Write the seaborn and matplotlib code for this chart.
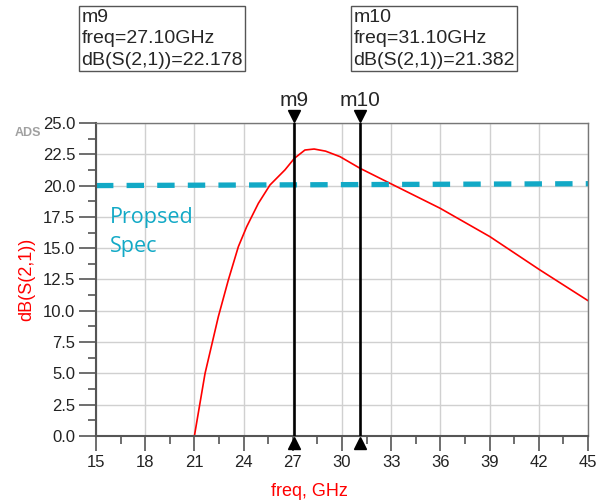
import numpy as np
import pandas as pd
import seaborn as sns
import matplotlib.pyplot as plt
import matplotlib.transforms as mtransforms
from matplotlib.ticker import MultipleLocator

# curve
freq = [21.0, 21.65, 22.46, 23.07, 23.68, 24.19, 24.9, 25.61, 26.52, 27.1,
        27.74, 28.3, 29.0, 29.88, 31.1, 32.93, 35.98, 39.02, 42.07, 45.0]
s21 = [0.0, 5.0, 9.53, 12.46, 15.12, 16.72, 18.58, 20.05, 21.25, 22.18,
       22.84, 22.92, 22.75, 22.31, 21.38, 20.18, 18.19, 15.92, 13.26, 10.81]
spec_x = [15, 45]
spec_y = [20.0, 20.15]
markers = ["m9", "m10"]
marker_freq = [27.10, 31.10]
marker_val = [22.178, 21.382]

sns.set_style("white")
plt.rcParams['font.family'] = ['Liberation Sans', 'DejaVu Sans']

fig = plt.figure(figsize=(5.98, 5.04), dpi=100)
ax = fig.add_axes([0.1605, 0.1349, 0.8228, 0.6211])

df = pd.DataFrame({'freq': freq, 'dB': s21})
sns.lineplot(data=df, x='freq', y='dB', color='red', lw=1.2, ax=ax)

ax.plot(spec_x, spec_y, color='#12A9C6', lw=3.8, dashes=(3.3, 2.5))
ax.text(15.85, 16.3, "Propsed\nSpec", color='#12A9C6', fontsize=15.5,
        family=['Open Sans', 'DejaVu Sans'], va='center', linespacing=1.45)

# markers
up = mtransforms.offset_copy(ax.transData, fig=fig, x=0, y=6.5, units='dots')
down = mtransforms.offset_copy(ax.transData, fig=fig, x=0, y=-6.5, units='dots')
for name, f in zip(markers, marker_freq):
    ax.plot([f, f], [0, 25], color='black', lw=1.9, zorder=5)
    ax.plot(f, 25, marker='v', color='black', ms=8, clip_on=False, zorder=6, transform=up)
    ax.plot(f, 0, marker='^', color='black', ms=8, clip_on=False, zorder=6, transform=down)
    ax.text(f, 26.0, name, ha='center', va='bottom', fontsize=15)

ax.set_xlim(15, 45)
ax.set_ylim(0, 25)
ax.xaxis.set_major_locator(MultipleLocator(3))
ax.xaxis.set_minor_locator(MultipleLocator(1.5))
ax.yaxis.set_minor_locator(MultipleLocator(1.25))
ax.set_yticks(np.arange(0, 25.1, 2.5))
ax.set_yticklabels([f"{v:.1f}" for v in np.arange(0, 25.1, 2.5)])
ax.grid(True, which='major', color='#d0d0d0', lw=1)
ax.tick_params(which='major', direction='out', length=12, width=1.2, color='#555555',
               labelsize=12, labelcolor='#222222', left=True, bottom=True, pad=3)
ax.tick_params(which='minor', direction='out', length=6, width=1.2, color='#555555',
               left=True, bottom=True)
ax.tick_params(axis='x', which='major', length=11)
for side in ['left', 'bottom']:
    ax.spines[side].set_color('#555555')
    ax.spines[side].set_linewidth(1.5)
for side in ['top', 'right']:
    ax.spines[side].set_color('#777777')
    ax.spines[side].set_linewidth(1)

ax.set_xlabel("")
ax.set_ylabel("")
fig.text(0.518, 0.024, "freq, GHz", color='red', fontsize=13, ha='center', va='center')
fig.text(0.045, 0.446, "dB(S(2,1))", color='red', fontsize=13, ha='center', va='center',
         rotation=90)
fig.text(0.025, 0.736, "ADS", color='#a0a0a0', fontsize=9, fontweight='bold', va='center')

# marker readout boxes
box = dict(boxstyle='square,pad=0.12', fc='white', ec='#555555', lw=1)
fig.text(0.136, 0.983, f"m9\nfreq={marker_freq[0]:.2f}GHz\ndB(S(2,1))={marker_val[0]:.3f}",
         fontsize=14, linespacing=1.36, bbox=box, va='top')
fig.text(0.591, 0.983, f"m10\nfreq={marker_freq[1]:.2f}GHz\ndB(S(2,1))={marker_val[1]:.3f}",
         fontsize=14, linespacing=1.36, bbox=box, va='top')

fig.savefig("out.png", dpi=100)
